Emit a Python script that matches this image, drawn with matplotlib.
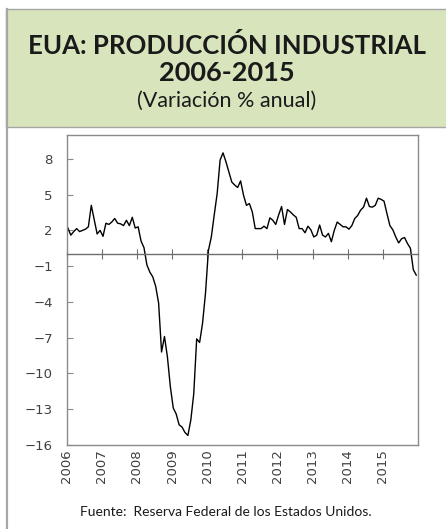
import matplotlib
matplotlib.use("Agg")
import matplotlib.pyplot as plt
from matplotlib.patches import Rectangle
from matplotlib.lines import Line2D

# variacion % anual, mensual ene-2006 .. dic-2015
valores = [
    2.2, 1.6, 1.9, 2.15, 1.9, 2.0, 2.1, 2.3, 4.1, 2.9, 1.7, 2.0,        # 2006
    1.5, 2.6, 2.5, 2.7, 3.0, 2.6, 2.55, 2.4, 2.85, 2.4, 3.1, 2.2,       # 2007
    2.3, 1.1, 0.55, -0.9, -1.5, -1.9, -2.7, -4.1, -8.2, -6.9, -8.6, -11.1,  # 2008
    -12.9, -13.4, -14.3, -14.5, -14.95, -15.2, -13.9, -11.7, -7.1, -7.4, -5.8, -3.3,  # 2009
    0.3, 1.45, 3.3, 5.1, 7.9, 8.5, 7.75, 6.9, 6.05, 5.8, 5.6, 6.15,     # 2010
    4.95, 4.1, 4.25, 3.55, 2.15, 2.15, 2.15, 2.35, 2.15, 3.05, 2.85, 2.5,  # 2011
    3.3, 4.0, 2.5, 3.75, 3.55, 3.3, 3.1, 2.15, 2.15, 1.8, 2.35, 2.05,   # 2012
    1.45, 1.6, 2.45, 1.6, 1.45, 1.75, 1.05, 2.0, 2.7, 2.5, 2.3, 2.3,    # 2013
    2.1, 2.4, 3.0, 3.25, 3.7, 3.95, 4.7, 4.0, 3.95, 4.1, 4.7, 4.6,      # 2014
    4.45, 3.4, 2.4, 2.05, 1.45, 0.95, 1.3, 1.4, 0.9, 0.5, -1.3, -1.75,  # 2015
]
meses = [i + 0.4 for i in range(len(valores))]
anios = list(range(2006, 2016))
pos_anios = [12 * (a - 2006) for a in anios]
yticks = [-16, -13, -10, -7, -4, -1, 2, 5, 8]

gris = "#8a8a8a"
texto = "#404040"

fig = plt.figure(figsize=(4.46, 5.29), dpi=100)

# marco y cabecera verde
fig.add_artist(Rectangle((6 / 446, 1 - 127 / 529), 1.0, 118 / 529,
                         transform=fig.transFigure, facecolor="#d8e4bc",
                         edgecolor="#a6a6a6", linewidth=1.0))
fig.add_artist(Line2D([6.5 / 446, 6.5 / 446], [0, 1 - 9 / 529],
                      transform=fig.transFigure, color="#a6a6a6", linewidth=1.6))

fig.text(0.509, 1 - 45 / 529, "EUA: PRODUCCIÓN INDUSTRIAL", ha="center", va="center",
         fontsize=18.5, fontweight="bold", family="Lato", color="#1a1a1a")
fig.text(0.509, 1 - 73 / 529, "2006-2015", ha="center", va="center",
         fontsize=19.5, fontweight="bold", family="Lato", color="#1a1a1a")
fig.text(0.509, 1 - 101 / 529, "(Variación % anual)", ha="center", va="center",
         fontsize=15.5, family="Lato", color="#1a1a1a")

ax = fig.add_axes([66.7 / 446, 1 - 445 / 529, (418 - 66.7) / 446, (445 - 135) / 529])
ax.plot(meses, valores, color="black", linewidth=1.0)
ax.set_xlim(0, 120)
ax.set_ylim(-16, 10)

ax.set_yticks(yticks)
ax.tick_params(axis="y", direction="in", length=4, width=0.8, color=gris,
               labelsize=9.5, labelcolor=texto, pad=10)
for lado in ["left", "right", "top"]:
    ax.spines[lado].set_color(gris)
    ax.spines[lado].set_linewidth(1.0)

# eje de categorias cruza en cero
ax.spines["bottom"].set_position(("data", 0))
ax.spines["bottom"].set_color("#6e6e6e")
ax.spines["bottom"].set_linewidth(1.0)
ax.set_xticks(pos_anios)
ax.tick_params(axis="x", direction="inout", length=7, width=0.8, color="#6e6e6e",
               labelbottom=False)

ax2 = ax.secondary_xaxis("bottom")
ax2.set_xticks(pos_anios)
ax2.set_xticklabels([str(a) for a in anios], rotation=90)
ax2.tick_params(length=0, labelsize=9.5, labelcolor=texto, pad=3)
ax2.spines["bottom"].set_color(gris)
ax2.spines["bottom"].set_linewidth(1.0)

fig.text(0.507, 1 - 512 / 529, "Fuente:  Reserva Federal de los Estados Unidos.",
         ha="center", va="center", fontsize=10, family="Lato", color="#1a1a1a")

fig.savefig("out.png", dpi=100)
